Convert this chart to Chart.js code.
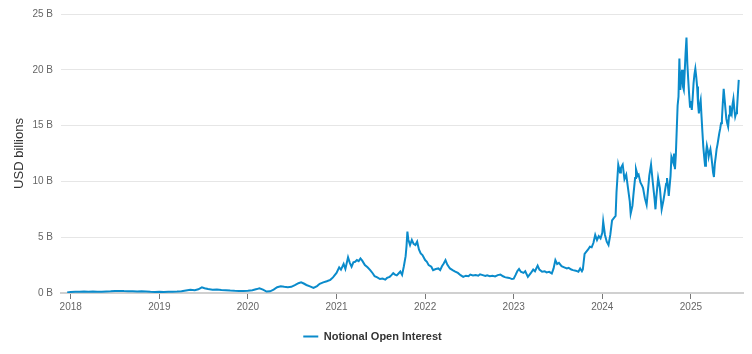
<!DOCTYPE html>
<html>
<head>
<meta charset="utf-8">
<script src="https://cdn.jsdelivr.net/npm/chart.js@4.4.1/dist/chart.umd.min.js"></script>
<style>
  html, body { margin: 0; padding: 0; background: #fff; }
  #wrap { width: 752px; height: 354px; }
</style>
</head>
<body>
<div id="wrap"><canvas id="chart-oi" width="752" height="354"></canvas></div>
<script>
// даты в долях года, значения в млрд USD
const years = [
  2017.96, 2018.00, 2018.05, 2018.10, 2018.15, 2018.20, 2018.25, 2018.30, 2018.35, 2018.40,
  2018.45, 2018.50, 2018.55, 2018.60, 2018.65, 2018.70, 2018.75, 2018.80, 2018.85, 2018.90,
  2018.95, 2019.00, 2019.05, 2019.10, 2019.15, 2019.20, 2019.25, 2019.30, 2019.35, 2019.40,
  2019.44, 2019.48, 2019.51, 2019.55, 2019.60, 2019.65, 2019.70, 2019.75, 2019.80, 2019.85,
  2019.90, 2019.95, 2020.00, 2020.05, 2020.10, 2020.13, 2020.17, 2020.21, 2020.25, 2020.29,
  2020.33, 2020.37, 2020.41, 2020.45, 2020.49, 2020.53, 2020.57, 2020.60, 2020.63, 2020.66,
  2020.70, 2020.74, 2020.78, 2020.81, 2020.85, 2020.89, 2020.93, 2020.96, 2021.00, 2021.03,
  2021.05, 2021.08, 2021.10, 2021.13, 2021.15, 2021.17, 2021.19, 2021.21, 2021.23, 2021.25,
  2021.27, 2021.29, 2021.32, 2021.35, 2021.38, 2021.41, 2021.43, 2021.46, 2021.49, 2021.52,
  2021.55, 2021.57, 2021.60, 2021.62, 2021.64, 2021.66, 2021.68, 2021.70, 2021.72, 2021.74,
  2021.76, 2021.78, 2021.79, 2021.80, 2021.81, 2021.83, 2021.85, 2021.87, 2021.89, 2021.91,
  2021.93, 2021.95, 2021.97, 2022.00, 2022.02, 2022.04, 2022.07, 2022.09, 2022.12, 2022.15,
  2022.17, 2022.19, 2022.21, 2022.23, 2022.25, 2022.28, 2022.31, 2022.34, 2022.37, 2022.40,
  2022.43, 2022.46, 2022.49, 2022.51, 2022.54, 2022.57, 2022.60, 2022.62, 2022.65, 2022.68,
  2022.70, 2022.73, 2022.76, 2022.79, 2022.82, 2022.85, 2022.88, 2022.90, 2022.92, 2022.95,
  2022.98, 2023.00, 2023.02, 2023.04, 2023.06, 2023.08, 2023.11, 2023.13, 2023.16, 2023.19,
  2023.22, 2023.24, 2023.27, 2023.29, 2023.32, 2023.35, 2023.37, 2023.40, 2023.43, 2023.45,
  2023.47, 2023.49, 2023.51, 2023.54, 2023.57, 2023.60, 2023.62, 2023.65, 2023.67, 2023.70,
  2023.73, 2023.75, 2023.77, 2023.78, 2023.80, 2023.82, 2023.84, 2023.86, 2023.88, 2023.90,
  2023.92, 2023.94, 2023.96, 2023.98, 2024.00, 2024.01, 2024.03, 2024.05, 2024.07, 2024.09,
  2024.11, 2024.13, 2024.15, 2024.16, 2024.18, 2024.20, 2024.21, 2024.23, 2024.25, 2024.27,
  2024.29, 2024.31, 2024.32, 2024.34, 2024.35, 2024.37, 2024.38, 2024.40, 2024.41, 2024.43,
  2024.45, 2024.46, 2024.48, 2024.50, 2024.52, 2024.53, 2024.55, 2024.57, 2024.59, 2024.60,
  2024.61, 2024.63, 2024.65, 2024.67, 2024.69, 2024.70, 2024.72, 2024.73, 2024.74, 2024.75,
  2024.77, 2024.78, 2024.80, 2024.81, 2024.82, 2024.83, 2024.85, 2024.86, 2024.87, 2024.88,
  2024.89, 2024.90, 2024.91, 2024.92, 2024.93, 2024.94, 2024.95, 2024.96, 2024.97, 2024.98,
  2024.99, 2025.00, 2025.01, 2025.02, 2025.03, 2025.04, 2025.05, 2025.06, 2025.07, 2025.08,
  2025.09, 2025.10, 2025.11, 2025.12, 2025.13, 2025.14, 2025.15, 2025.16, 2025.17, 2025.18,
  2025.19, 2025.20, 2025.21, 2025.22, 2025.23, 2025.24, 2025.25, 2025.26, 2025.27, 2025.28,
  2025.29, 2025.30, 2025.31, 2025.32, 2025.33, 2025.34, 2025.35, 2025.36, 2025.37, 2025.38,
  2025.39, 2025.40, 2025.41, 2025.42, 2025.43, 2025.44, 2025.45, 2025.46, 2025.47, 2025.48,
  2025.49, 2025.50, 2025.51, 2025.52, 2025.53, 2025.54
];

const openInterest = [
  0.05, 0.10, 0.12, 0.11, 0.13, 0.12, 0.13, 0.11, 0.12, 0.14,
  0.15, 0.17, 0.19, 0.17, 0.16, 0.15, 0.14, 0.15, 0.13, 0.11,
  0.10, 0.11, 0.10, 0.11, 0.12, 0.13, 0.16, 0.22, 0.28, 0.25,
  0.33, 0.50, 0.42, 0.35, 0.30, 0.32, 0.27, 0.25, 0.22, 0.20,
  0.19, 0.18, 0.20, 0.25, 0.35, 0.42, 0.30, 0.13, 0.15, 0.30,
  0.52, 0.60, 0.55, 0.52, 0.55, 0.70, 0.88, 0.96, 0.85, 0.72,
  0.60, 0.45, 0.62, 0.82, 0.95, 1.05, 1.18, 1.40, 1.80, 2.30,
  2.10, 2.60, 2.15, 3.20, 2.70, 2.35, 2.75, 2.80, 2.95, 2.85,
  3.10, 2.90, 2.50, 2.30, 2.05, 1.75, 1.50, 1.40, 1.25, 1.30,
  1.20, 1.35, 1.45, 1.60, 1.78, 1.65, 1.58, 1.75, 1.92, 1.62,
  2.40, 3.30, 4.20, 5.50, 4.80, 4.30, 4.75, 4.40, 4.30, 4.60,
  3.90, 3.55, 3.40, 2.95, 2.80, 2.50, 2.35, 2.05, 2.15, 2.20,
  2.05, 2.40, 2.65, 2.95, 2.55, 2.20, 2.05, 1.92, 1.80, 1.60,
  1.45, 1.55, 1.50, 1.65, 1.58, 1.62, 1.55, 1.68, 1.60, 1.52,
  1.58, 1.50, 1.55, 1.48, 1.60, 1.65, 1.50, 1.42, 1.38, 1.35,
  1.25, 1.28, 1.60, 1.95, 2.15, 1.90, 1.80, 1.95, 1.45, 1.75,
  2.10, 1.95, 2.45, 2.10, 1.90, 1.95, 1.85, 1.90, 1.75, 2.20,
  2.95, 2.60, 2.70, 2.40, 2.30, 2.20, 2.25, 2.10, 2.05, 2.00,
  1.90, 2.20, 1.95, 2.10, 3.50, 3.70, 3.90, 4.15, 4.10, 4.50,
  5.20, 4.75, 5.10, 4.90, 5.40, 6.40, 5.20, 4.60, 4.30, 5.20,
  6.50, 6.70, 6.90, 9.00, 11.50, 10.80, 11.20, 11.50, 10.20, 10.60,
  9.40, 8.20, 7.10, 7.80, 8.70, 10.30, 11.10, 10.50, 10.60, 9.90,
  9.60, 9.40, 8.50, 7.90, 9.60, 10.50, 11.50, 9.90, 8.40, 7.50,
  8.60, 10.30, 9.40, 7.50, 8.30, 8.80, 9.80, 10.30, 9.60, 8.70,
  10.50, 12.20, 11.70, 12.50, 11.10, 12.40, 16.80, 17.60, 21.00, 18.20,
  19.30, 20.00, 18.50, 18.20, 19.80, 21.50, 22.90, 20.50, 19.10, 17.80,
  16.70, 17.20, 16.40, 17.50, 18.80, 19.60, 20.10, 19.40, 18.50, 17.00,
  16.10, 16.90, 17.30, 15.80, 14.40, 13.10, 12.20, 11.40, 12.50, 13.20,
  12.80, 12.20, 12.60, 12.90, 12.30, 11.60, 10.80, 10.40, 11.60, 12.20,
  12.90, 13.30, 13.80, 14.30, 14.70, 15.20, 15.60, 17.00, 18.30, 17.40,
  16.50, 15.60, 15.20, 14.90, 15.90, 16.80, 16.20, 16.00, 16.90, 17.40,
  16.50, 15.80, 16.10, 16.50, 17.80, 19.10
];

const yearTicks = [2018, 2019, 2020, 2021, 2022, 2023, 2024, 2025];
const valueTicks = [0, 5, 10, 15, 20, 25];

const lineColor = '#0a8bcb';

const ctx = document.getElementById('chart-oi');

new Chart(ctx, {
  type: 'line',
  data: {
    datasets: [{
      label: 'Notional Open Interest',
      data: years.map((x, i) => ({ x: x, y: openInterest[i] })),
      borderColor: lineColor,
      backgroundColor: lineColor,
      borderWidth: 2,
      pointRadius: 0,
      tension: 0,
      fill: false
    }]
  },
  options: {
    responsive: false,
    animation: false,
    layout: {
      padding: { top: 9, right: 9, left: 2, bottom: 2 }
    },
    scales: {
      x: {
        type: 'linear',
        min: 2017.89,
        max: 2025.588,
        afterBuildTicks: (scale) => {
          scale.ticks = yearTicks.map(v => ({ value: v }));
        },
        afterFit: (scale) => {
          // чуть выше ось, как в оригинале
          scale.height += 2;
        },
        ticks: {
          font: { family: 'Liberation Sans, Arial, sans-serif', size: 10 },
          color: '#666',
          padding: 2,
          maxRotation: 0,
          autoSkip: false,
          callback: (v) => String(v)
        },
        grid: {
          drawOnChartArea: false,
          drawTicks: true,
          tickLength: 6,
          color: '#777',
          lineWidth: 1
        },
        border: { color: '#d0d0d0', width: 2 }
      },
      y: {
        min: 0,
        max: 25,
        afterBuildTicks: (scale) => {
          scale.ticks = valueTicks.map(v => ({ value: v }));
        },
        afterFit: (scale) => {
          scale.width = 59;
        },
        title: {
          display: true,
          text: 'USD billions',
          color: '#333',
          font: { family: 'Liberation Sans, Arial, sans-serif', size: 13 },
          padding: { top: 10, bottom: 0 }
        },
        ticks: {
          font: { family: 'Liberation Sans, Arial, sans-serif', size: 10 },
          color: '#666',
          padding: 8,
          callback: (v) => v + ' B'
        },
        grid: {
          color: '#e6e6e6',
          lineWidth: 1,
          drawTicks: false
        },
        border: { display: false }
      }
    },
    plugins: {
      legend: {
        position: 'bottom',
        labels: {
          usePointStyle: true,
          pointStyle: 'line',
          pointStyleWidth: 15,
          boxHeight: 2,
          padding: 14,
          color: '#333',
          font: { family: 'Liberation Sans, Arial, sans-serif', size: 11, weight: 'bold' }
        }
      },
      tooltip: { enabled: false }
    }
  }
});
</script>
</body>
</html>
